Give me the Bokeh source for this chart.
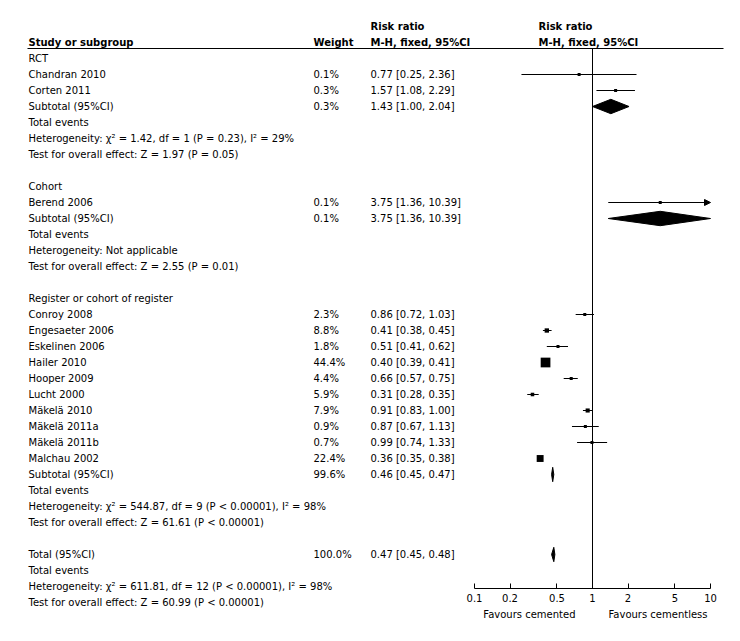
import math
from bokeh.plotting import figure
from bokeh.models import Range1d, FixedTicker, Arrow, NormalHead, LogScale, LogAxis
from bokeh.embed import file_html
from bokeh.resources import INLINE
from bokeh.core.properties import value

# ---------------- data ----------------
group_names = ["RCT", "Cohort", "Register or cohort of register"]

rct_studies = ["Chandran 2010", "Corten 2011"]
rct_weights = [0.1, 0.3]
rct_rr = [0.77, 1.57]
rct_lo = [0.25, 1.08]
rct_hi = [2.36, 2.29]
rct_sub = [0.3, 1.43, 1.00, 2.04]          # weight, rr, lo, hi
rct_het = "Heterogeneity: χ² = 1.42, df = 1 (P = 0.23), I² = 29%"
rct_test = "Test for overall effect: Z = 1.97 (P = 0.05)"

cohort_studies = ["Berend 2006"]
cohort_weights = [0.1]
cohort_rr = [3.75]
cohort_lo = [1.36]
cohort_hi = [10.39]
cohort_sub = [0.1, 3.75, 1.36, 10.39]
cohort_het = "Heterogeneity: Not applicable"
cohort_test = "Test for overall effect: Z = 2.55 (P = 0.01)"

reg_studies = ["Conroy 2008", "Engesaeter 2006", "Eskelinen 2006", "Hailer 2010",
               "Hooper 2009", "Lucht 2000", "Mäkelä 2010", "Mäkelä 2011a",
               "Mäkelä 2011b", "Malchau 2002"]
reg_weights = [2.3, 8.8, 1.8, 44.4, 4.4, 5.9, 7.9, 0.9, 0.7, 22.4]
reg_rr = [0.86, 0.41, 0.51, 0.40, 0.66, 0.31, 0.91, 0.87, 0.99, 0.36]
reg_lo = [0.72, 0.38, 0.41, 0.39, 0.57, 0.28, 0.83, 0.67, 0.74, 0.35]
reg_hi = [1.03, 0.45, 0.62, 0.41, 0.75, 0.35, 1.00, 1.13, 1.33, 0.38]
reg_sub = [99.6, 0.46, 0.45, 0.47]
reg_het = "Heterogeneity: χ² = 544.87, df = 9 (P < 0.00001), I² = 98%"
reg_test = "Test for overall effect: Z = 61.61 (P < 0.00001)"

total_sum = [100.0, 0.47, 0.45, 0.48]
total_het = "Heterogeneity: χ² = 611.81, df = 12 (P < 0.00001), I² = 98%"
total_test = "Test for overall effect: Z = 60.99 (P < 0.00001)"

axis_ticks = [0.1, 0.2, 0.5, 1, 2, 5, 10]
axis_tick_labels = ["0.1", "0.2", "0.5", "1", "2", "5", "10"]
favours_left = "Favours cemented"
favours_right = "Favours cementless"

# ---------------- layout constants (page pixels) ----------------
W, HGT = 740, 641
ROW0_Y, ROW_H = 58, 16
X_ONE, DECADE = 592, 118
AXIS_Y = 588
HEADER_LINE_Y = 48
RULE_X0, RULE_X1 = 27, 723
COL_STUDY, COL_WEIGHT, COL_RR, COL_PLOT = 28, 313, 370, 538
FAV_Y = 614
AXIS_MIN, AXIS_MAX = axis_ticks[0], axis_ticks[-1]

def ry(py):
    return (py - ROW0_Y) / ROW_H

def prr(px):
    return 10 ** ((px - X_ONE) / DECADE)

FONT = value("DejaVu Sans")
FS = value("10px")

# ---------------- build rows ----------------
lab_r, lab_t = [], []
w_r, w_t = [], []
rr_r, rr_t = [], []
pt_r, pt_rr, pt_lo, pt_hi, pt_w = [], [], [], [], []
dm_r, dm_rr, dm_lo, dm_hi = [], [], [], []

def fmt_rr(rr, lo, hi):
    return f"{rr:.2f} [{lo:.2f}, {hi:.2f}]"

groups = [
    (group_names[0], rct_studies, rct_weights, rct_rr, rct_lo, rct_hi, rct_sub, rct_het, rct_test),
    (group_names[1], cohort_studies, cohort_weights, cohort_rr, cohort_lo, cohort_hi, cohort_sub, cohort_het, cohort_test),
    (group_names[2], reg_studies, reg_weights, reg_rr, reg_lo, reg_hi, reg_sub, reg_het, reg_test),
]
r = 0
for name, studies, ws, rrs, los, his, sub, het, test in groups:
    lab_r.append(r); lab_t.append(name); r += 1
    for s, w, rr, lo, hi in zip(studies, ws, rrs, los, his):
        lab_r.append(r); lab_t.append(s)
        w_r.append(r); w_t.append(f"{w:.1f}%")
        rr_r.append(r); rr_t.append(fmt_rr(rr, lo, hi))
        pt_r.append(r); pt_rr.append(rr); pt_lo.append(lo); pt_hi.append(hi); pt_w.append(w)
        r += 1
    lab_r.append(r); lab_t.append("Subtotal (95%CI)")
    w_r.append(r); w_t.append(f"{sub[0]:.1f}%")
    rr_r.append(r); rr_t.append(fmt_rr(sub[1], sub[2], sub[3]))
    dm_r.append(r); dm_rr.append(sub[1]); dm_lo.append(sub[2]); dm_hi.append(sub[3])
    r += 1
    for t in ["Total events", het, test]:
        lab_r.append(r); lab_t.append(t); r += 1
    r += 1

lab_r.append(r); lab_t.append("Total (95%CI)")
w_r.append(r); w_t.append(f"{total_sum[0]:.1f}%")
rr_r.append(r); rr_t.append(fmt_rr(total_sum[1], total_sum[2], total_sum[3]))
dm_r.append(r); dm_rr.append(total_sum[1]); dm_lo.append(total_sum[2]); dm_hi.append(total_sum[3])
r += 1
for t in ["Total events", total_het, total_test]:
    lab_r.append(r); lab_t.append(t); r += 1

# ---------------- figure ----------------
p = figure(width=W, height=HGT,
           x_range=Range1d(0, W), y_range=Range1d(ry(HGT), ry(0)),
           output_backend="svg", toolbar_location=None,
           x_axis_location=None, y_axis_location=None, min_border=0)
p.outline_line_color = None
p.grid.visible = False
p.extra_x_ranges = {"rr": Range1d(prr(0), prr(W))}
p.extra_x_scales = {"rr": LogScale()}

def add_text(xs, ys, texts, bold=False, x_offset=0, align="left", rng="default"):
    p.text(x=xs, y=ys, text=texts, text_font=FONT, text_font_size=FS,
           text_baseline="middle", text_align=align, text_color="black",
           text_font_style="bold" if bold else "normal", x_offset=x_offset,
           x_range_name=rng)

# table text
add_text([COL_STUDY] * len(lab_r), lab_r, lab_t)
add_text([COL_WEIGHT] * len(w_r), w_r, w_t)
add_text([COL_RR] * len(rr_r), rr_r, rr_t)
add_text([COL_RR, COL_STUDY, COL_WEIGHT, COL_RR], [-2, -1, -1, -1],
         ["Risk ratio", "Study or subgroup", "Weight", "M-H, fixed, 95%CI"], bold=True)
add_text([1, 1], [-2, -1], ["Risk ratio", "M-H, fixed, 95%CI"], bold=True,
         x_offset=COL_PLOT - X_ONE, rng="rr")

# header rule
p.segment(x0=[RULE_X0], y0=[ry(HEADER_LINE_Y)], x1=[RULE_X1], y1=[ry(HEADER_LINE_Y)],
          line_color="black", line_width=1)

# line of no effect
p.segment(x0=[1], y0=[ry(HEADER_LINE_Y)], x1=[1], y1=[ry(AXIS_Y)],
          line_color="black", line_width=1, x_range_name="rr")

# CI lines
seg_x0, seg_x1, seg_y = [], [], []
for rr_, lo, hi, rw in zip(pt_rr, pt_lo, pt_hi, pt_r):
    if hi > AXIS_MAX:
        p.add_layout(Arrow(end=NormalHead(size=6, fill_color="black", line_color="black", line_width=1),
                           x_start=max(lo, AXIS_MIN), y_start=rw, x_end=AXIS_MAX, y_end=rw,
                           line_color="black", line_width=1, x_range_name="rr"))
    else:
        seg_x0.append(max(lo, AXIS_MIN)); seg_x1.append(hi); seg_y.append(rw)
p.segment(x0=seg_x0, y0=seg_y, x1=seg_x1, y1=seg_y, line_color="black", line_width=1,
          x_range_name="rr")

# study squares (area ~ weight)
sizes = [max(3.0, 1.46 * math.sqrt(w)) for w in pt_w]
p.scatter(x=pt_rr, y=pt_r, size=sizes, marker="square", fill_color="black", line_color=None,
          x_range_name="rr")

# pooled diamonds
H = 0.45
dxs = [[max(lo, AXIS_MIN), rr_, min(hi, AXIS_MAX), rr_] for rr_, lo, hi in zip(dm_rr, dm_lo, dm_hi)]
dys = [[rw, rw - H, rw, rw + H] for rw in dm_r]
p.patches(xs=dxs, ys=dys, fill_color="black", line_color="black", line_width=1, x_range_name="rr")

# log axis
ax = LogAxis(x_range_name="rr", ticker=FixedTicker(ticks=axis_ticks, minor_ticks=[]),
             fixed_location=ry(AXIS_Y))
ax.major_label_overrides = {t: l for t, l in zip(axis_ticks, axis_tick_labels)}
ax.bounds = (AXIS_MIN, AXIS_MAX)
ax.major_tick_in = 5
ax.major_tick_out = 0
ax.minor_tick_line_color = None
ax.axis_line_color = "black"
ax.major_tick_line_color = "black"
ax.major_label_text_font = "DejaVu Sans"
ax.major_label_text_font_size = "10px"
ax.major_label_text_color = "black"
ax.major_label_standoff = 5
p.add_layout(ax, "below")

# favours labels
add_text([1], [ry(FAV_Y)], [favours_left], x_offset=-17, align="right", rng="rr")
add_text([1], [ry(FAV_Y)], [favours_right], x_offset=16, align="left", rng="rr")

open("out.html", "w").write(file_html(p, INLINE))
